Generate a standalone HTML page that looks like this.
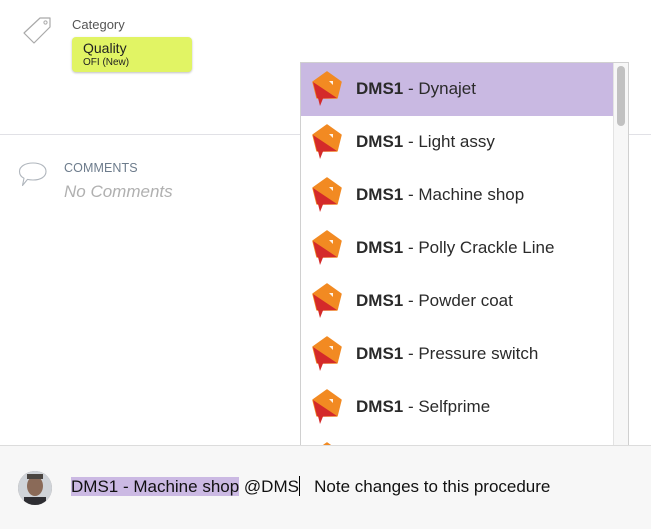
<!DOCTYPE html>
<html><head><meta charset="utf-8">
<style>
html,body{margin:0;padding:0;}
body{width:651px;height:528px;position:relative;overflow:hidden;background:#fff;font-family:"Liberation Sans",Arial,sans-serif;}
.abs{position:absolute;}
.cat{left:72px;top:17px;font-size:13px;color:#555;}
.chip{left:72px;top:37px;width:120px;height:35px;background:#e1f464;border-radius:4px;box-shadow:0 1px 2px rgba(0,0,0,0.25);}
.chip .t1{position:absolute;left:11px;top:3px;font-size:14px;color:#222;}
.chip .t2{position:absolute;left:11px;top:20px;font-size:10px;color:#222;}
.hr{left:0;top:134px;width:651px;height:1px;background:#e1e1e6;}
.comh{left:64px;top:161px;font-size:12.5px;color:#6d7c8c;letter-spacing:0.1px;}
.noc{left:64px;top:182px;font-size:17px;color:#b0b0b0;font-style:italic;}
.dd{left:300px;top:62px;width:329px;height:400px;background:#fff;border:1px solid #d0d0d0;box-sizing:border-box;overflow:hidden;}
.track{position:absolute;right:0;top:0;width:14px;height:100%;background:#f7f7f7;border-left:1px solid #e3e3e3;}
.thumb{position:absolute;left:3px;top:3px;width:8px;height:60px;background:#c1c1c1;border-radius:4px;}
.row{position:absolute;left:0;width:313px;height:53px;}
.row.sel{background:#c9b9e2;}
.row svg{position:absolute;left:10px;top:8px;}
.row .lbl{position:absolute;left:55px;top:16px;font-size:17px;color:#2a2a2a;white-space:nowrap;}
.row .lbl b{font-weight:bold;}
.bar{left:0;top:445px;width:651px;height:83px;background:#f7f7f7;border-top:1px solid #dcdcdc;}
.av{left:18px;top:471px;width:34px;height:34px;border-radius:50%;overflow:hidden;background:#8a7f78;}
.txt{left:71px;top:476px;font-size:17px;color:#111;white-space:nowrap;}
.hl{background:#cbb9e3;}
.cursor{display:inline-block;width:1px;height:20px;background:#000;vertical-align:-4px;margin-left:0;}
</style></head><body>

<svg class="abs" style="left:20px;top:14px" width="34" height="34" viewBox="0 0 34 34">
  <path d="M4 19 L20 4 L30 4 L30 13 L14 29 Z" fill="none" stroke="#a9a9a9" stroke-width="1.2" stroke-linejoin="round"/>
  <circle cx="25.5" cy="8.5" r="1.6" fill="none" stroke="#a9a9a9" stroke-width="1"/>
</svg>
<div class="abs cat">Category</div>
<div class="abs chip"><div class="t1">Quality</div><div class="t2">OFI (New)</div></div>

<div class="abs hr"></div>

<svg class="abs" style="left:17px;top:160px" width="32" height="30" viewBox="0 0 32 30">
  <path d="M16 3 C24 3 29 6.5 29 11.5 C29 16.5 24 20 16 20 C14 20 12 19.8 10.5 19.4 L5.5 25.5 L7 18.2 C3.8 16.7 2.5 14.3 2.5 11.5 C2.5 6.5 8 3 16 3 Z" fill="none" stroke="#b0b6bd" stroke-width="1.1" stroke-linejoin="round"/>
</svg>
<div class="abs comh">COMMENTS</div>
<div class="abs noc">No Comments</div>

<div class="abs dd">
  <div class="row sel" style="top:0"><svg width="32" height="40" viewBox="0 0 32 40"><use href="#ic"/></svg><div class="lbl"><b>DMS1</b> - Dynajet</div></div>
  <div class="row" style="top:53px"><svg width="32" height="40" viewBox="0 0 32 40"><use href="#ic"/></svg><div class="lbl"><b>DMS1</b> - Light assy</div></div>
  <div class="row" style="top:106px"><svg width="32" height="40" viewBox="0 0 32 40"><use href="#ic"/></svg><div class="lbl"><b>DMS1</b> - Machine shop</div></div>
  <div class="row" style="top:159px"><svg width="32" height="40" viewBox="0 0 32 40"><use href="#ic"/></svg><div class="lbl"><b>DMS1</b> - Polly Crackle Line</div></div>
  <div class="row" style="top:212px"><svg width="32" height="40" viewBox="0 0 32 40"><use href="#ic"/></svg><div class="lbl"><b>DMS1</b> - Powder coat</div></div>
  <div class="row" style="top:265px"><svg width="32" height="40" viewBox="0 0 32 40"><use href="#ic"/></svg><div class="lbl"><b>DMS1</b> - Pressure switch</div></div>
  <div class="row" style="top:318px"><svg width="32" height="40" viewBox="0 0 32 40"><use href="#ic"/></svg><div class="lbl"><b>DMS1</b> - Selfprime</div></div>
  <div class="row" style="top:371px"><svg width="32" height="40" viewBox="0 0 32 40"><use href="#ic"/></svg><div class="lbl"><b>DMS1</b> - Solar</div></div>
  <div class="track"><div class="thumb"></div></div>
</div>

<svg width="0" height="0" style="position:absolute">
  <defs>
    <g id="ic">
      <path d="M16 1 L30 11 L26 27 L6 27 L2 11 Z" fill="#f28a22" stroke="#f28a22" stroke-width="1.5" stroke-linejoin="round"/>
      <path d="M2 11 L26 27 L12 27.5 L9 35 L7 27 L6 27 Z" fill="#d42a2a"/>
      <path d="M18 10 L22 10 L22 14 Z" fill="#fff" opacity="0.9"/>
    </g>
  </defs>
</svg>

<div class="abs bar"></div>
<div class="abs av">
  <svg width="34" height="34" viewBox="0 0 34 34">
    <rect width="34" height="34" fill="#cfd3d8"/>
    <ellipse cx="17" cy="15" rx="8" ry="10" fill="#8a6a58"/>
    <rect x="6" y="26" width="22" height="10" fill="#2e2e33"/>
    <rect x="9" y="3" width="16" height="5" fill="#4a4540"/>
  </svg>
</div>
<div class="abs txt"><span class="hl">DMS1 - Machine shop</span> @DMS<span class="cursor"></span>&nbsp;&nbsp; Note changes to this procedure</div>

</body></html>
